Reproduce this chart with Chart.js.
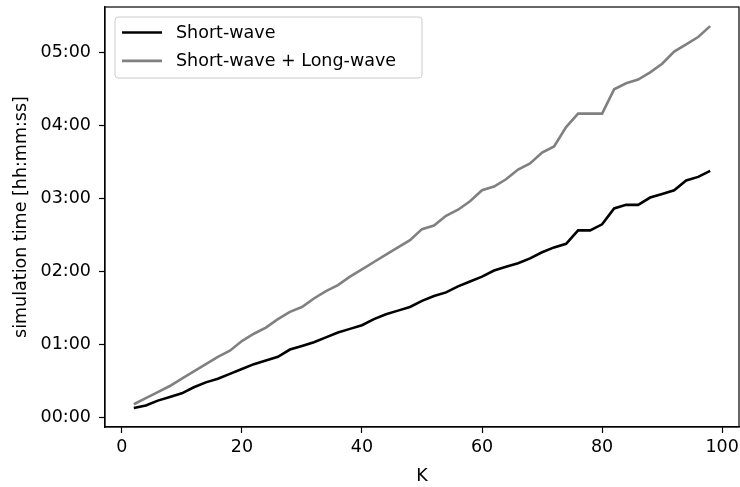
<!DOCTYPE html>
<html>
<head>
<meta charset="utf-8">
<script src="https://cdn.jsdelivr.net/npm/chart.js@4.4.1/dist/chart.umd.min.js"></script>
<style>
  html, body { margin: 0; padding: 0; background: #fff; }
  #wrap { width: 740px; height: 487px; }
</style>
</head>
<body>
<div id="wrap"><canvas id="timeChart" width="740" height="487"></canvas></div>
<script>
// K values (x axis)
const kValues = [2, 4, 6, 8, 10, 12, 14, 16, 18, 20, 22, 24, 26, 28, 30, 32, 34, 36, 38, 40,
  42, 44, 46, 48, 50, 52, 54, 56, 58, 60, 62, 64, 66, 68, 70, 72, 74, 76, 78, 80,
  82, 84, 86, 88, 90, 92, 94, 96, 98];

// simulation time in seconds
const shortWave = [8, 10, 14, 17, 20, 25, 29, 32, 36, 40, 44, 47, 50, 56, 59, 62, 66, 70, 73, 76,
  81, 85, 88, 91, 96, 100, 103, 108, 112, 116, 121, 124, 127, 131, 136, 140, 143, 154, 154, 159,
  172, 175, 175, 181, 184, 187, 195, 198, 203];
const shortLongWave = [11, 16, 21, 26, 32, 38, 44, 50, 55, 63, 69, 74, 81, 87, 91, 98, 104, 109, 116, 122,
  128, 134, 140, 146, 155, 158, 166, 171, 178, 187, 190, 196, 204, 209, 218, 223, 239, 250, 250, 250,
  270, 275, 278, 284, 291, 301, 307, 313, 322];

const xTicks = [0, 20, 40, 60, 80, 100];
const yTicks = [0, 60, 120, 180, 240, 300];

const seriesNames = ['Short-wave', 'Short-wave + Long-wave'];
const seriesColors = ['#000000', '#808080'];

const FONT = 'DejaVu Sans';
const FS = 17.5;

const toPoints = (vals) => vals.map((v, i) => ({ x: kValues[i], y: v }));

const fmtTime = (v) => {
  const m = Math.floor(v / 60);
  const s = Math.round(v - m * 60);
  return (m < 10 ? '0' : '') + m + ':' + (s < 10 ? '0' : '') + s;
};

// frame on top/right + legend box inside plot (matplotlib look)
const framePlugin = {
  id: 'frameLegend',
  afterDraw(chart) {
    const { ctx, chartArea: a } = chart;
    ctx.save();
    ctx.strokeStyle = '#000';
    ctx.lineWidth = 1.2;
    ctx.strokeRect(a.left, a.top, a.right - a.left, a.bottom - a.top);

    // legend
    const bx = a.left + 10, by = a.top + 10, bw = 307, bh = 61;
    ctx.fillStyle = 'rgba(255,255,255,0.8)';
    ctx.strokeStyle = '#cccccc';
    ctx.lineWidth = 1;
    ctx.beginPath();
    ctx.roundRect(bx, by, bw, bh, 3);
    ctx.fill();
    ctx.stroke();

    ctx.font = FS + 'px "' + FONT + '"';
    ctx.textBaseline = 'middle';
    ctx.textAlign = 'left';
    chart.data.datasets.forEach((ds, i) => {
      const ly = by + 15.5 + i * 28.4;
      ctx.strokeStyle = ds.borderColor;
      ctx.lineWidth = ds.borderWidth;
      ctx.beginPath();
      ctx.moveTo(bx + 7, ly);
      ctx.lineTo(bx + 47, ly);
      ctx.stroke();
      ctx.fillStyle = '#000';
      ctx.fillText(ds.label, bx + 61, ly + 1);
    });
    ctx.restore();
  }
};

const ctx = document.getElementById('timeChart').getContext('2d');
new Chart(ctx, {
  type: 'line',
  data: {
    datasets: [
      {
        label: seriesNames[0],
        data: toPoints(shortWave),
        borderColor: seriesColors[0],
        borderWidth: 2.6,
        pointRadius: 0,
        tension: 0,
        fill: false
      },
      {
        label: seriesNames[1],
        data: toPoints(shortLongWave),
        borderColor: seriesColors[1],
        borderWidth: 2.6,
        pointRadius: 0,
        tension: 0,
        fill: false
      }
    ]
  },
  options: {
    responsive: false,
    animation: false,
    layout: { padding: { top: 7, right: 1, left: 0, bottom: 0 } },
    plugins: {
      legend: { display: false },
      tooltip: { enabled: false }
    },
    scales: {
      x: {
        type: 'linear',
        min: -2.8,
        max: 102.8,
        afterBuildTicks: (scale) => { scale.ticks = xTicks.map(v => ({ value: v })); },
        afterFit: (scale) => {
          scale.height = 60;
          scale.paddingLeft = 0;
          scale.paddingRight = 0;
        },
        ticks: {
          color: '#000',
          padding: 4,
          maxRotation: 0,
          font: { family: FONT, size: FS },
          callback: (v) => String(v)
        },
        grid: { drawOnChartArea: false, drawTicks: true, tickLength: 6, tickColor: '#000', tickWidth: 1.2 },
        border: { display: true, color: '#000', width: 1.2 },
        title: {
          display: true,
          text: 'K',
          color: '#000',
          font: { family: FONT, size: FS },
          padding: { top: 0, bottom: 0 }
        }
      },
      y: {
        type: 'linear',
        min: -7.7,
        max: 337.7,
        afterBuildTicks: (scale) => { scale.ticks = yTicks.map(v => ({ value: v })); },
        afterFit: (scale) => {
          scale.width = 105;
          scale.paddingTop = 0;
          scale.paddingBottom = 0;
        },
        ticks: {
          color: '#000',
          padding: 8,
          font: { family: FONT, size: FS },
          callback: (v) => fmtTime(v)
        },
        grid: { drawOnChartArea: false, drawTicks: true, tickLength: 6, tickColor: '#000', tickWidth: 1.2 },
        border: { display: true, color: '#000', width: 1.2 },
        title: {
          display: true,
          text: 'simulation time [hh:mm:ss]',
          color: '#000',
          font: { family: FONT, size: FS },
          padding: { top: 10.5, bottom: 0 }
        }
      }
    }
  },
  plugins: [framePlugin]
});
</script>
</body>
</html>
